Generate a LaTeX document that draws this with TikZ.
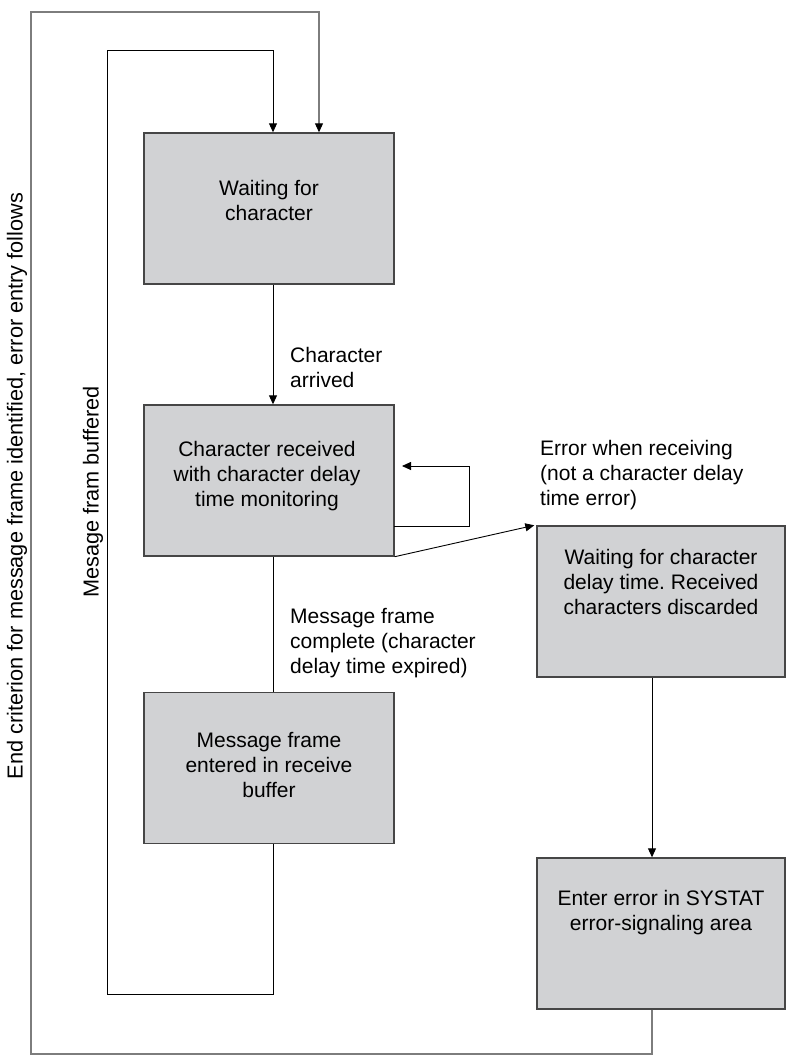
\documentclass[tikz,border=0pt]{standalone}
\usepackage{fontspec}
\setmainfont{Liberation Sans}
\usetikzlibrary{arrows.meta}
\frenchspacing
\definecolor{boxfill}{RGB}{209,210,212}
\definecolor{boxline}{RGB}{70,70,70}
\definecolor{outerline}{RGB}{125,125,125}
\tikzset{
  statebox/.style={draw=boxline, line width=1.4pt, fill=boxfill, minimum width=250pt, minimum height=151pt, inner sep=0pt, anchor=center},
  txt/.style={font=\fontsize{21}{25}\selectfont, align=center, inner sep=0pt},
  rtxt/.style={font=\fontsize{21.7}{25}\selectfont, inner sep=0pt, rotate=90},
  ltxt/.style={font=\fontsize{21}{25}\selectfont, align=left, inner sep=0pt, anchor=west},
  conn/.style={draw=black, line width=0.9pt},
  outer/.style={draw=outerline, line width=1.8pt},
  tip/.style={-{Triangle[length=9pt,width=8pt]}},
  darktip/.style={-{Triangle[length=9pt,width=8pt,color=black,fill=black,line width=0.9pt]}}
}
\begin{document}
\begin{tikzpicture}[x=1pt,y=-1pt]
\useasboundingbox (0,0) rectangle (787,1057);
% boxes
\node[statebox] (b1) at (269,208.5) {};
\node[statebox] (b2) at (269,480.5) {};
\node[statebox] (b4) at (269,768) {};
\node[statebox, minimum width=248pt] (b5) at (661,601.5) {};
\node[statebox, minimum width=248pt] (b6) at (661,933.5) {};
% box texts
\node[txt] (t1) at (269,200) {Waiting for\\character};
\node[txt] (t2) at (267,476) {Character received\\with character delay\\time monitoring};
\node[txt] (t4) at (269,765) {Message frame\\entered in receive\\buffer};
\node[txt] (t5) at (661,582) {Waiting for character\\delay time. Received\\characters discarded};
\node[txt] (t6) at (661,913) {Enter error in SYSTAT\\error-signaling area};
% labels
\node[ltxt] (l1) at (290,367) {Character\\arrived};
\node[ltxt] (l2) at (290,643) {Message frame\\complete (character\\delay time expired)};
\node[ltxt] (l3) at (540,475) {Error when receiving\\(not a character delay\\time error)};
\node[rtxt] (l4) at (17,486) {End criterion for message frame identified, error entry follows};
\node[rtxt] (l5) at (93,492) {Mesage fram buffered};
% coordinates
\coordinate (va) at (273,0);
\coordinate (vb) at (319,0);
\coordinate (vc) at (652,0);
\coordinate (b2s) at (394,526);
\coordinate (b2e) at (402,466);
% connectors
\draw[conn, tip] (b1.south -| va) -- (b2.north -| va);
\draw[conn] (b2.south -| va) -- (b4.north -| va);
\draw[conn, tip] (b2s) -- (469,526) -- (469,466) -- (b2e);
\draw[conn, tip] (b2.south east) -- ([xshift=-2pt]b5.north west);
\draw[conn, tip] (b5.south -| vc) -- (b6.north -| vc);
\draw[conn, tip] (b4.south -| va) -- (273,994) -- (107,994) -- (107,50) -- (273,50) -- (b1.north -| va);
\draw[outer, darktip] (b6.south -| vc) -- (652,1054) -- (31,1054) -- (31,12) -- (319,12) -- (b1.north -| vb);
\end{tikzpicture}
\end{document}
